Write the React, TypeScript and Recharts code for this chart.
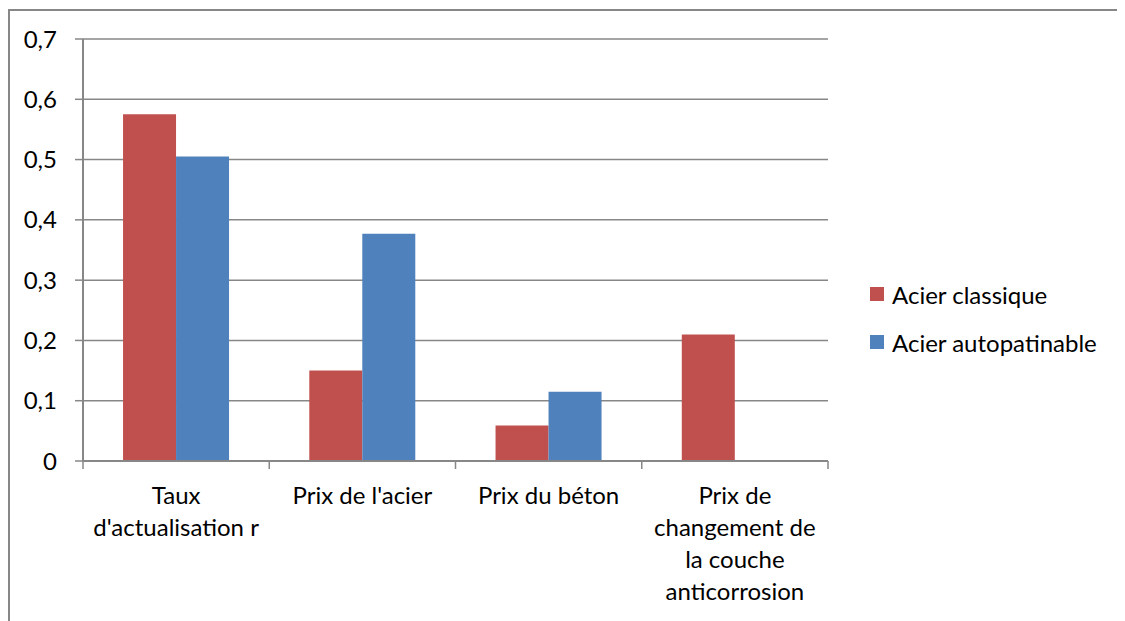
import React from "react";
import { BarChart, Bar, XAxis, YAxis, CartesianGrid } from "recharts";

const categories = [
  "Taux\nd'actualisation r",
  "Prix de l'acier",
  "Prix du béton",
  "Prix de\nchangement de\nla couche\nanticorrosion",
];
const acierClassique = [0.575, 0.15, 0.059, 0.21];
const acierAutopatinable = [0.505, 0.377, 0.115, 0];
const yTicks = [0, 0.1, 0.2, 0.3, 0.4, 0.5, 0.6, 0.7];

const series = [
  { key: "classique", name: "Acier classique", color: "#C0504D" },
  { key: "autopatinable", name: "Acier autopatinable", color: "#4F81BD" },
];

const data = categories.map((c, i) => ({
  name: c,
  classique: acierClassique[i],
  autopatinable: acierAutopatinable[i],
}));

const W = 1125;
const H = 621;
const M = { top: 39, right: 297, left: 8, bottom: 10 };
const Y_W = 75;
const FONT = "Lato, 'Open Sans', sans-serif";
const FS = 24;
const GRID = "#878787";
const band = (W - M.left - M.right - Y_W) / categories.length;

function CatTick(props: any) {
  const { x, y, payload, index } = props;
  const lines = String(payload.value).split("\n");
  return (
    <g>
      <line x1={x - band / 2} x2={x - band / 2} y1={y - 8} y2={y} stroke={GRID} strokeWidth={1.5} />
      {index === categories.length - 1 && (
        <line x1={x + band / 2} x2={x + band / 2} y1={y - 8} y2={y} stroke={GRID} strokeWidth={1.5} />
      )}
      <text x={x} y={y + 35} textAnchor="middle" fontSize={FS} fill="#000" fontFamily={FONT}>
        {lines.map((l, i) => (
          <tspan key={i} x={x} dy={i === 0 ? 0 : 32}>
            {l}
          </tspan>
        ))}
      </text>
    </g>
  );
}

export default function App() {
  return (
    <div style={{ position: "relative", width: W - 8, height: H - 8, overflow: "hidden" }}>
      <div
        style={{
          position: "absolute",
          left: 0,
          top: 1,
          width: W + 40,
          height: H + 40,
          borderTop: `2px solid ${GRID}`,
          borderLeft: `2px solid ${GRID}`,
        }}
      />
      <div style={{ position: "absolute", left: -8, top: -8 }}>
        <BarChart width={W} height={H} data={data} margin={M} barCategoryGap="21.5%" barGap={0}>
          <CartesianGrid vertical={false} stroke={GRID} strokeWidth={1.5} />
          <XAxis
            dataKey="name"
            height={150}
            interval={0}
            tickLine={false}
            tick={<CatTick />}
            axisLine={{ stroke: GRID, strokeWidth: 2 }}
          />
          <YAxis
            width={Y_W}
            domain={[0, 0.7]}
            ticks={yTicks}
            interval={0}
            tickSize={8}
            tickMargin={18}
            tickFormatter={(v: number) => (v === 0 ? "0" : v.toFixed(1).replace(".", ","))}
            tick={{ fontSize: FS, fill: "#000", fontFamily: FONT }}
            tickLine={{ stroke: GRID, strokeWidth: 1.5 }}
            axisLine={{ stroke: GRID, strokeWidth: 2 }}
          />
          {series.map((s) => (
            <Bar key={s.key} dataKey={s.key} name={s.name} fill={s.color} isAnimationActive={false} />
          ))}
        </BarChart>
      </div>
      {/* legend, right of the plot */}
      <div style={{ position: "absolute", left: 862, top: 262, fontFamily: FONT, fontSize: FS, color: "#000" }}>
        {series.map((s) => (
          <div key={s.key} style={{ display: "flex", alignItems: "center", height: 48 }}>
            <span style={{ width: 14, height: 14, background: s.color, marginRight: 8, display: "inline-block" }} />
            <span>{s.name}</span>
          </div>
        ))}
      </div>
    </div>
  );
}
